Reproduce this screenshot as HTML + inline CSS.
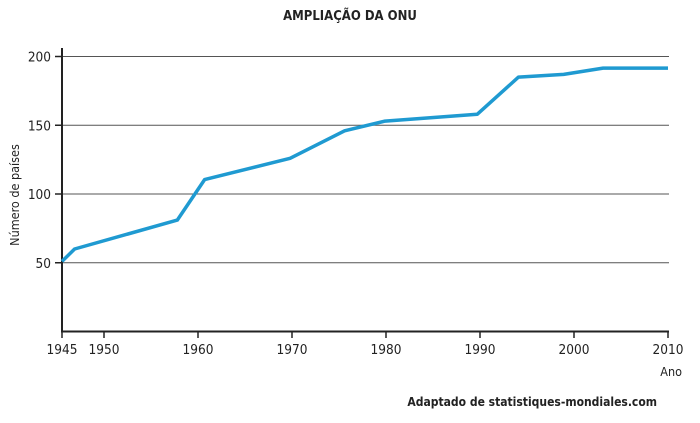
<!DOCTYPE html>
<html><head><meta charset="utf-8"><style>
html,body{margin:0;padding:0;background:#fff;}
svg{display:block;font-family:"DejaVu Sans Condensed","Liberation Sans",sans-serif;}
</style></head><body>
<svg id="chart" width="700" height="423" viewBox="0 0 700 423" xmlns="http://www.w3.org/2000/svg">
<text x="350" y="20" text-anchor="middle" font-size="13" font-weight="bold" fill="#222">AMPLIAÇÃO DA ONU</text>
<g id="grid"></g>
<g id="axes"></g>
<g id="series"></g>
<text transform="translate(19,195) rotate(-90)" text-anchor="middle" font-size="12.5" fill="#222">Número de países</text>
<text x="682" y="376" text-anchor="end" font-size="12.5" fill="#222">Ano</text>
<text x="657" y="406" text-anchor="end" font-size="12" font-weight="bold" fill="#222">Adaptado de statistiques-mondiales.com</text>
</svg>
<script>
const years = [1945, 1946.5, 1957.8, 1960.7, 1969.8, 1975.6, 1979.9, 1989.7, 1994.1, 1998.9, 2003.1, 2010];
const members = [51, 60, 81, 110.5, 126, 146, 153, 158, 185, 187, 191.6, 191.6];
const xTicks = [1945, 1950, 1960, 1970, 1980, 1990, 2000, 2010];
const yTicks = [50, 100, 150, 200];

const NS = "http://www.w3.org/2000/svg";
function x(v){
  if (v <= 1950) return 62 + (v - 1945) * (104 - 62) / 5;
  return 104 + (v - 1950) * (668 - 104) / 60;
}
function y(v){ return 331.5 - v * (331.5 - 56.5) / 200; }
function mk(tag, attrs, parent){
  const e = document.createElementNS(NS, tag);
  for (const k in attrs) e.setAttribute(k, attrs[k]);
  parent.appendChild(e); return e;
}
const grid = document.getElementById('grid');
const axes = document.getElementById('axes');
const series = document.getElementById('series');

yTicks.forEach(t => {
  const g = mk('line', {x1:62, x2:669, y1:y(t), y2:y(t), stroke:'#555', 'stroke-width':1}, grid);
  
  
  const tk = mk('line', {x1:55, x2:62, y1:y(t), y2:y(t), stroke:'#222', 'stroke-width':1.5}, axes);
  
  
  const lb = mk('text', {x:51, y:y(t)+5, 'text-anchor':'end', 'font-size':13.5, fill:'#222'}, axes);
  lb.textContent = t;
  
  
});
xTicks.forEach(t => {
  const tk = mk('line', {x1:x(t), x2:x(t), y1:331, y2:338, stroke:'#222', 'stroke-width':1.5}, axes);
  
  
  const lb = mk('text', {x:x(t), y:354, 'text-anchor':'middle', 'font-size':13.5, fill:'#222'}, axes);
  lb.textContent = t;
  
  
});
const ya = mk('line', {x1:62, x2:62, y1:48, y2:332, stroke:'#222', 'stroke-width':2}, axes);


const xa = mk('line', {x1:61, x2:669, y1:331.5, y2:331.5, stroke:'#222', 'stroke-width':2}, axes);



const pts = years.map((yr, i) => x(yr).toFixed(1) + ',' + y(members[i]).toFixed(1)).join(' ');
const line = mk('polyline', {points:pts, fill:'none', stroke:'#1f9ad1', 'stroke-width':3.5, 'stroke-linejoin':'round'}, series);


</script>
</body></html>
